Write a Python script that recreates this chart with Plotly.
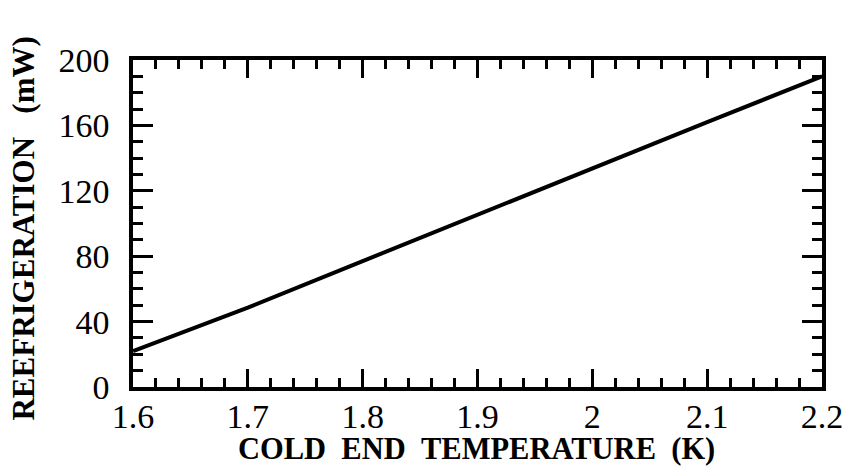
import plotly.graph_objects as go

temperature_K = [1.6, 1.7, 1.8, 1.9, 2.0, 2.1, 2.2]
refrigeration_mW = [22, 48.5, 77, 105.5, 134, 162, 190]

x_ticks = [1.6, 1.7, 1.8, 1.9, 2.0, 2.1, 2.2]
x_ticktext = ["1.6", "1.7", "1.8", "1.9", "2", "2.1", "2.2"]
y_ticks = [0, 40, 80, 120, 160, 200]

x_title = "COLD END TEMPERATURE (K)"
y_title = "REEFRIGERATION (mW)"

serif = "Liberation Serif, Times New Roman, serif"

fig = go.Figure()
fig.add_trace(go.Scatter(
    x=temperature_K, y=refrigeration_mW, mode="lines",
    line=dict(color="black", width=4), showlegend=False,
))

axis_common = dict(
    showline=True, linecolor="black", linewidth=3.5, mirror="ticks",
    ticks="inside", tickcolor="black", tickwidth=3,
    showgrid=False, zeroline=False,
    tickfont=dict(family=serif, size=34, color="black"),
)

fig.update_xaxes(
    range=[1.6, 2.2], tickvals=x_ticks, ticktext=x_ticktext, ticklen=18,
    minor=dict(dtick=0.02, ticks="inside", ticklen=9, tickwidth=3, tickcolor="black"),
    ticklabelstandoff=-4,
    **axis_common,
)
fig.update_yaxes(
    range=[0, 200], tickvals=y_ticks, ticklen=20,
    minor=dict(dtick=10, ticks="inside", ticklen=10, tickwidth=3, tickcolor="black"),
    ticklabelstandoff=13,
    **axis_common,
)

fig.add_annotation(
    text="<b>" + x_title.replace(" ", "\u00a0\u00a0") + "</b>",
    xref="paper", yref="paper", x=0.498, y=-0.19,
    xanchor="center", yanchor="middle", showarrow=False,
    font=dict(family=serif, size=30.5, color="black"),
)
fig.add_annotation(
    text="<b>" + y_title.replace(" ", "\u00a0\u00a0\u00a0") + "</b>",
    xref="paper", yref="paper", x=-0.159, y=0.486, textangle=-90,
    xanchor="center", yanchor="middle", showarrow=False,
    font=dict(family=serif, size=31, color="black"),
)

fig.update_layout(
    width=855, height=466,
    margin=dict(l=133, r=25, t=60, b=79),
    plot_bgcolor="white", paper_bgcolor="white",
)

fig.write_html("out.html")
